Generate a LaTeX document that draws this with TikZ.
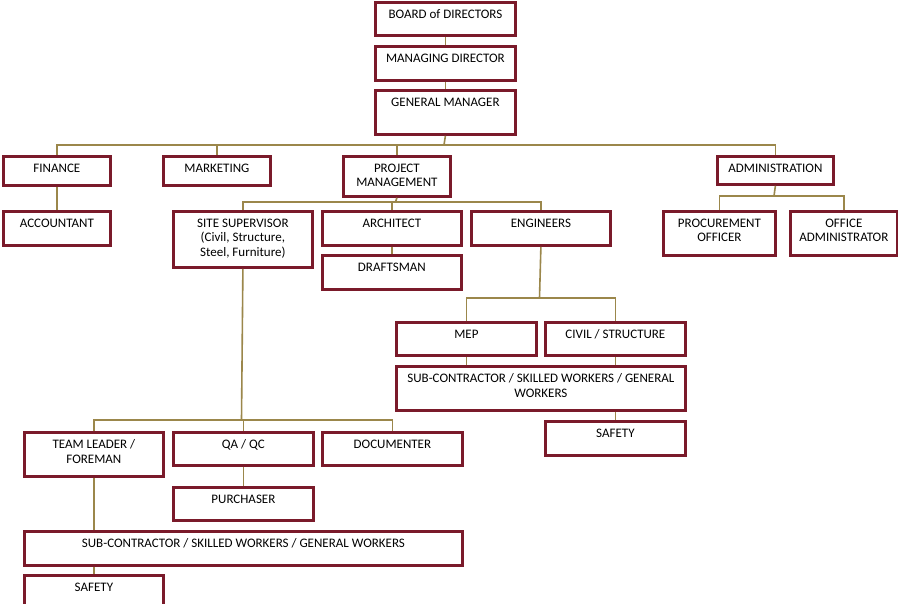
\documentclass[tikz,border=0pt]{standalone}
\usepackage{fontspec}
\setmainfont{Carlito}
\definecolor{boxred}{RGB}{122,26,42}
\definecolor{linkgold}{RGB}{155,135,75}

\begin{document}
\begin{tikzpicture}[x=1pt, y=-1pt,
    box/.style={draw=boxred, line width=2.8pt, fill=white, anchor=north west, inner sep=0pt},
    lbl/.style={anchor=north, yshift=-8.5pt, inner sep=0pt, align=center, font=\fontsize{13}{14.5}\selectfont},
    link/.style={draw=linkgold, line width=1.6pt}]
                \useasboundingbox[fill=white] (0,0) rectangle (898,604);
                % top of the chart
                \node[box, minimum width=140, minimum height=33, label={[lbl]north:BOARD of DIRECTORS}] (board) at (374,1) {};
                \node[box, minimum width=140, minimum height=34, label={[lbl]north:MANAGING DIRECTOR}] (md) at (374,45) {};
                \node[box, minimum width=140, minimum height=44, label={[lbl]north:GENERAL MANAGER}] (gm) at (374,89) {};
                % departments
                \node[box, minimum width=107, minimum height=29, label={[lbl]north:FINANCE}] (fin) at (2,155) {};
                \node[box, minimum width=107, minimum height=29, label={[lbl]north:MARKETING}] (mkt) at (162,155) {};
                \node[box, minimum width=107, minimum height=40, label={[lbl]north:PROJECT\\MANAGEMENT}] (pm) at (342,155) {};
                \node[box, minimum width=116, minimum height=28, label={[lbl]north:ADMINISTRATION}] (admin) at (716,155) {};
                \node[box, minimum width=107, minimum height=34, label={[lbl]north:ACCOUNTANT}] (acc) at (2,210) {};
                \node[box, minimum width=139, minimum height=56, label={[lbl]north:SITE SUPERVISOR\\(Civil, Structure,\\Steel, Furniture)}] (site) at (172,210) {};
                \node[box, minimum width=139, minimum height=34, label={[lbl]north:ARCHITECT}] (arch) at (321,210) {};
                \node[box, minimum width=139, minimum height=34, label={[lbl]north:ENGINEERS}] (eng) at (470,210) {};
                \node[box, minimum width=112, minimum height=44, label={[lbl]north:PROCUREMENT\\OFFICER}] (proc) at (662,210) {};
                \node[box, minimum width=107, minimum height=44, label={[lbl]north:OFFICE\\ADMINISTRATOR}] (office) at (789,210) {};
                \node[box, minimum width=139, minimum height=34, label={[lbl]north:DRAFTSMAN}] (draft) at (321,254) {};
                % engineers branch
                \node[box, minimum width=140, minimum height=33, label={[lbl]north:MEP}] (mep) at (395,321) {};
                \node[box, minimum width=140, minimum height=33, label={[lbl]north:CIVIL / STRUCTURE}] (civil) at (544,321) {};
                \node[box, minimum width=289, minimum height=44, label={[lbl]north:SUB-CONTRACTOR / SKILLED WORKERS / GENERAL\\WORKERS}] (esub) at (395,365) {};
                \node[box, minimum width=140, minimum height=34, label={[lbl]north:SAFETY}] (esafe) at (544,420) {};
                % site branch
                \node[box, minimum width=139, minimum height=44, label={[lbl]north:TEAM LEADER /\\FOREMAN}] (team) at (23,431) {};
                \node[box, minimum width=140, minimum height=33, label={[lbl]north:QA / QC}] (qa) at (172,431) {};
                \node[box, minimum width=140, minimum height=33, label={[lbl]north:DOCUMENTER}] (doc) at (321,431) {};
                \node[box, minimum width=140, minimum height=33, label={[lbl]north:PURCHASER}] (purch) at (172,486) {};
                \node[box, minimum width=438, minimum height=34, label={[lbl]north:SUB-CONTRACTOR / SKILLED WORKERS / GENERAL WORKERS}] (ssub) at (23,530) {};
                \node[box, minimum width=139, minimum height=40, label={[lbl]north:SAFETY}] (ssafe) at (23,574) {};
                % bus points
                \coordinate (gmbus) at (444,145);
                \coordinate (pmbus) at (395.5,202);
                \coordinate (adbus) at (774,196);
                \coordinate (engbus) at (539.5,298);
                \coordinate (sitebus) at (241.5,420);
                % connectors
                \draw[link] (board.south) -- (md.north);
                \draw[link] (md.south) -- (gm.north);
                \draw[link] (gm.south) -- (gmbus);
                \draw[link] (fin.north) |- (gmbus) -| (admin.north);
                \draw[link] (mkt.north) -- (mkt.north |- gmbus);
                \draw[link] (pm.north) -- (pm.north |- gmbus);
                \draw[link] (fin.south) -- (acc.north);
                \draw[link] (pm.south) -- (pmbus);
                \draw[link] (site.north) |- (pmbus) -| (eng.north);
                \draw[link] (arch.north) -- (arch.north |- pmbus);
                \draw[link] (arch.south) -- (draft.north);
                \draw[link] (admin.south) -- (adbus);
                \draw[link] (proc.north) |- (adbus) -| (office.north);
                \draw[link] (eng.south) -- (engbus);
                \draw[link] (mep.north) |- (engbus) -| (civil.north);
                \draw[link] (mep.south) -- (mep.south |- esub.north);
                \draw[link] (civil.south) -- (civil.south |- esub.north);
                \draw[link] (esub.south -| esafe.north) -- (esafe.north);
                \draw[link] (site.south) -- (sitebus);
                \draw[link] (team.north) |- (sitebus) -| (doc.north);
                \draw[link] (qa.north) -- (qa.north |- sitebus);
                \draw[link] (qa.south) -- (purch.north);
                \draw[link] (team.south) -- (team.south |- ssub.north);
                \draw[link] (ssub.south -| ssafe.north) -- (ssafe.north);
            \end{tikzpicture}
\end{document}
